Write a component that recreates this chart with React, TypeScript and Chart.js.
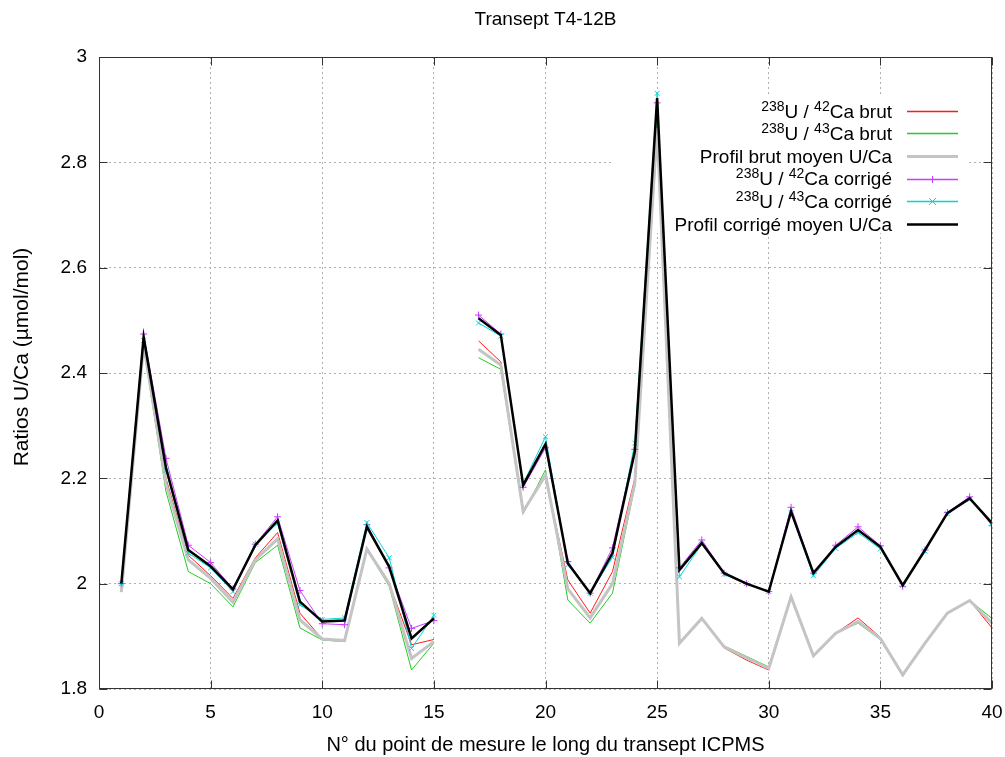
import { useEffect, useRef } from 'react';
import { Chart, registerables } from 'chart.js';

Chart.register(...registerables);

// ---------------- data ----------------
const POINT_NO = [1, 2, 3, 4, 5, 6, 7, 8, 9, 10, 11, 12, 13, 14, 15, 16, 17, 18, 19, 20,
  21, 22, 23, 24, 25, 26, 27, 28, 29, 30, 31, 32, 33, 34, 35, 36, 37, 38, 39, 40];

const U42_BRUT = [1.99, 2.46, 2.2, 2.054, 2.015, 1.972, 2.049, 2.097, 1.944, 1.895, 1.893, 2.068, 2.0, 1.884, 1.894, null,
  2.461, 2.421, 2.14, 2.203, 2.007, 1.944, 2.023, 2.2, 2.846, 1.887, 1.935, 1.878, 1.855, 1.836,
  1.978, 1.863, 1.906, 1.935, 1.898, 1.824, 1.887, 1.944, 1.968, 1.916];

const U43_BRUT = [1.985, 2.45, 2.175, 2.023, 2.0, 1.956, 2.04, 2.073, 1.916, 1.893, 1.89, 2.064, 1.995, 1.836, 1.887, null,
  2.429, 2.407, 2.133, 2.216, 1.969, 1.925, 1.982, 2.185, 2.885, 1.887, 1.933, 1.882, 1.862, 1.842,
  1.973, 1.863, 1.906, 1.925, 1.894, 1.827, 1.887, 1.944, 1.968, 1.934];

const MEAN_BRUT = [1.984, 2.455, 2.19, 2.045, 2.01, 1.965, 2.045, 2.085, 1.931, 1.895, 1.892, 2.066, 2.0, 1.858, 1.89, null,
  2.445, 2.415, 2.137, 2.206, 1.99, 1.935, 2.0, 2.19, 2.865, 1.887, 1.934, 1.88, 1.859, 1.839,
  1.975, 1.863, 1.906, 1.928, 1.896, 1.827, 1.887, 1.944, 1.968, 1.925];

const U42_CORR = [2.0, 2.474, 2.238, 2.073, 2.04, 1.99, 2.075, 2.127, 1.987, 1.924, 1.922, 2.112, 2.03, 1.915, 1.93, null,
  2.51, 2.474, 2.183, 2.258, 2.042, 1.982, 2.068, 2.255, 2.913, 2.03, 2.083, 2.02, 2.0, 1.985,
  2.145, 2.02, 2.073, 2.108, 2.072, 1.995, 2.064, 2.135, 2.165, 2.11];

const U43_CORR = [2.0, 2.462, 2.215, 2.058, 2.03, 1.985, 2.075, 2.115, 1.96, 1.932, 1.935, 2.116, 2.049, 1.877, 1.94, null,
  2.495, 2.47, 2.19, 2.279, 2.036, 1.982, 2.05, 2.267, 2.931, 2.013, 2.075, 2.018, 2.0, 1.985,
  2.135, 2.015, 2.067, 2.097, 2.066, 1.997, 2.062, 2.133, 2.16, 2.115];

const MEAN_CORR = [2.0, 2.468, 2.22, 2.064, 2.033, 1.989, 2.073, 2.12, 1.966, 1.928, 1.93, 2.108, 2.032, 1.896, 1.934, null,
  2.504, 2.472, 2.187, 2.265, 2.039, 1.982, 2.058, 2.251, 2.922, 2.026, 2.077, 2.02, 2.0, 1.985,
  2.137, 2.02, 2.07, 2.102, 2.07, 1.997, 2.064, 2.134, 2.162, 2.115];

// legend labels as [text, isSuperscript] segments
const LEGEND_LABELS: [string, boolean][][] = [
  [['238', true], ['U / ', false], ['42', true], ['Ca brut', false]],
  [['238', true], ['U / ', false], ['43', true], ['Ca brut', false]],
  [['Profil brut moyen U/Ca', false]],
  [['238', true], ['U / ', false], ['42', true], ['Ca corrigé', false]],
  [['238', true], ['U / ', false], ['43', true], ['Ca corrigé', false]],
  [['Profil corrigé moyen U/Ca', false]],
];

const TITLE = 'Transept T4-12B';
const X_TITLE = 'N° du point de mesure le long du transept ICPMS';
const Y_TITLE = 'Ratios U/Ca (µmol/mol)';

const X_MIN = 0, X_MAX = 40, X_STEP = 5;
const Y_MIN = 1.8, Y_MAX = 3, Y_STEP = 0.2;

// ---------------- styles ----------------
const FONT = '"Liberation Sans", Arial, Helvetica, sans-serif';
const SERIES_STYLE = [
  { color: '#ff1a1a', width: 1, marker: '' },
  { color: '#22cc22', width: 1, marker: '' },
  { color: '#c4c4c4', width: 3, marker: '' },
  { color: '#c83cff', width: 1, marker: 'plus' },
  { color: '#00d8d8', width: 1, marker: 'x' },
  { color: '#000000', width: 2.5, marker: '' },
];

const SERIES = [U42_BRUT, U43_BRUT, MEAN_BRUT, U42_CORR, U43_CORR, MEAN_CORR];

function drawMarker(ctx: CanvasRenderingContext2D, kind: string, x: number, y: number, r: number) {
  ctx.beginPath();
  if (kind === 'plus') {
    ctx.moveTo(x - r, y); ctx.lineTo(x + r, y);
    ctx.moveTo(x, y - r); ctx.lineTo(x, y + r);
  } else if (kind === 'x') {
    ctx.moveTo(x - r, y - r); ctx.lineTo(x + r, y + r);
    ctx.moveTo(x - r, y + r); ctx.lineTo(x + r, y - r);
  }
  ctx.stroke();
}

const keyPlugin = {
  id: 'gnuplotKey',
  beforeDatasetsDraw(chart: any) {
    const ctx = chart.ctx as CanvasRenderingContext2D;
    const a = chart.chartArea;
    ctx.save();
    ctx.fillStyle = '#ffffff';
    ctx.fillRect(614, 97, a.right - 24 - 614, 136);
    ctx.restore();
  },
  afterDatasetsDraw(chart: any) {
    const ctx = chart.ctx as CanvasRenderingContext2D;
    const a = chart.chartArea;
    ctx.save();
    ctx.setLineDash([]);
    ctx.globalAlpha = 1;
    // legend
    const textRight = 892;
    const lineL = 907, lineR = 958;
    LEGEND_LABELS.forEach((segs, i) => {
      const cy = 110.7 + i * 22.6;
      const base = cy + 6.8;
      let total = 0;
      const widths = segs.map(([t, sup]) => {
        ctx.font = `${sup ? 14 : 19}px ${FONT}`;
        const w = ctx.measureText(t).width;
        total += w;
        return w;
      });
      let x = textRight - total;
      ctx.fillStyle = '#000';
      ctx.textAlign = 'left';
      ctx.textBaseline = 'alphabetic';
      segs.forEach(([t, sup], k) => {
        ctx.font = `${sup ? 14 : 19}px ${FONT}`;
        ctx.fillText(t, x, sup ? base - 7 : base);
        x += widths[k];
      });
      const st = SERIES_STYLE[i];
      const ly = Math.round(cy) + (st.width % 2 ? 0.5 : 0);
      ctx.strokeStyle = st.color;
      ctx.lineWidth = st.width === 1 ? 1.5 : st.width;
      ctx.beginPath();
      ctx.moveTo(lineL, ly);
      ctx.lineTo(lineR, ly);
      ctx.stroke();
      if (st.marker) {
        ctx.lineWidth = 1;
        drawMarker(ctx, st.marker, (lineL + lineR) / 2, ly, 3.5);
      }
    });

    // border and inward ticks
    const xs = chart.scales.x, ys = chart.scales.y;
    ctx.strokeStyle = '#333';
    ctx.lineWidth = 1;
    const L = Math.round(a.left) + 0.5, R = Math.round(a.right) - 0.5;
    const T = Math.round(a.top) + 0.5, B = Math.round(a.bottom) - 0.5;
    ctx.strokeRect(L, T, R - L, B - T);
    ctx.beginPath();
    const tl = 8;
    for (let v = X_MIN; v <= X_MAX + 1e-9; v += X_STEP) {
      const px = Math.round(xs.getPixelForValue(v)) + 0.5;
      ctx.moveTo(px, B); ctx.lineTo(px, B - tl);
      ctx.moveTo(px, T); ctx.lineTo(px, T + tl);
    }
    for (let v = Y_MIN; v <= Y_MAX + 1e-9; v += Y_STEP) {
      const py = Math.round(ys.getPixelForValue(v)) + 0.5;
      ctx.moveTo(L, py); ctx.lineTo(L + tl, py);
      ctx.moveTo(R, py); ctx.lineTo(R - tl, py);
    }
    ctx.stroke();

    // y-axis title (rotated)
    ctx.save();
    ctx.translate(22, 357);
    ctx.rotate(-Math.PI / 2);
    ctx.font = `21px ${FONT}`;
    ctx.fillStyle = '#000';
    ctx.textAlign = 'center';
    ctx.textBaseline = 'middle';
    ctx.fillText(Y_TITLE, 0, 0);
    ctx.restore();

    ctx.restore();
  },
};

export default function App() {
  const ref = useRef<HTMLCanvasElement | null>(null);

  useEffect(() => {
    if (!ref.current) return;
    const datasets = SERIES.map((arr, i) => {
      const st = SERIES_STYLE[i];
      return {
        label: LEGEND_LABELS[i].map((s) => s[0]).join(''),
        data: POINT_NO.map((x, k) => ({ x, y: arr[k] })),
        borderColor: st.color,
        backgroundColor: st.color,
        borderWidth: st.width,
        pointRadius: st.marker ? 3.5 : 0,
        pointHoverRadius: st.marker ? 3.5 : 0,
        pointStyle: st.marker === 'plus' ? 'cross' : st.marker === 'x' ? 'crossRot' : 'circle',
        pointBorderWidth: 1,
        pointBorderColor: st.color,
        tension: 0,
        spanGaps: false,
        fill: false,
        order: SERIES.length - i,
      };
    });

    const chart = new Chart(ref.current, {
      type: 'line',
      data: { datasets: datasets as any },
      options: {
        animation: false,
        responsive: false,
        devicePixelRatio: 1,
        layout: { padding: { left: 0, right: 13, top: 0, bottom: 0 } },
        plugins: {
          legend: { display: false },
          tooltip: { enabled: false },
          title: {
            display: true,
            fullSize: false,
            text: TITLE,
            color: '#000',
            font: { family: FONT, size: 19, weight: 'normal' },
            padding: { top: 8.6, bottom: 25.6 },
          },
        },
        scales: {
          x: {
            type: 'linear',
            min: X_MIN,
            max: X_MAX,
            afterFit: (s: any) => { s.height = 68; s.paddingLeft = 0; s.paddingRight = 0; },
            ticks: {
              stepSize: X_STEP,
              color: '#000',
              font: { family: FONT, size: 19 },
              padding: 12,
              maxRotation: 0,
              callback: (v: any) => String(Math.round(Number(v))),
            },
            grid: { color: '#b0b0b0', drawTicks: false, lineWidth: 1 },
            border: { display: false, dash: [2, 3] },
            title: {
              display: true,
              text: X_TITLE,
              color: '#000',
              font: { family: FONT, size: 20 },
              padding: { top: 0, bottom: 0 },
            },
          },
          y: {
            type: 'linear',
            min: Y_MIN,
            max: Y_MAX,
            afterFit: (s: any) => { s.width = 99; s.paddingTop = 0; s.paddingBottom = 0; },
            ticks: {
              stepSize: Y_STEP,
              color: '#000',
              font: { family: FONT, size: 19 },
              padding: 12,
              callback: (v: any) => String(Number(Number(v).toFixed(1))),
            },
            grid: { color: '#b0b0b0', drawTicks: false, lineWidth: 1 },
            border: { display: false, dash: [2, 3] },
            title: { display: false, text: Y_TITLE },
          },
        },
      },
      plugins: [keyPlugin],
    } as any);
    return () => chart.destroy();
  }, []);

  return (
    <div style={{ position: 'absolute', left: 0, top: 0, width: 1005, height: 757, background: '#fff' }}>
      <canvas ref={ref} width={1005} height={757} style={{ display: 'block' }} />
    </div>
  );
}
